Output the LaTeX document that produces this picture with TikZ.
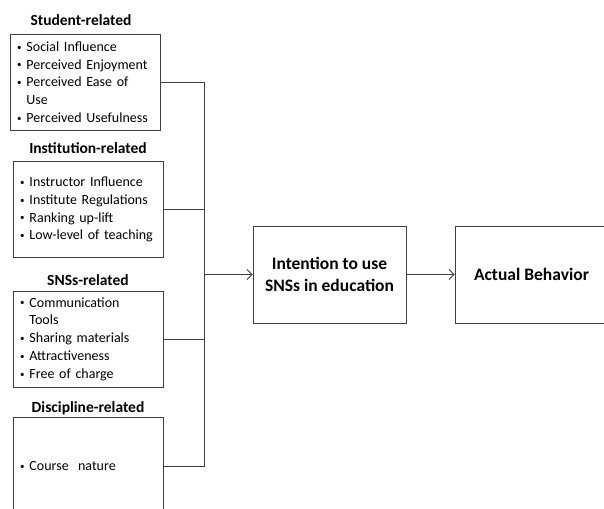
\documentclass[tikz,border=0pt]{standalone}
\usepackage{fontspec}
\setmainfont{Carlito}
\usetikzlibrary{arrows.meta,positioning}
\newcommand{\bul}{\raisebox{1.2pt}{\fontsize{9}{9}\selectfont\textbullet}\hspace{5pt}}
\newcommand{\cont}{\phantom{\fontsize{9}{9}\selectfont\textbullet}\hspace{5pt}}

\begin{document}
\begin{tikzpicture} [
	x=1pt, y=1pt,
	factor/.style = {draw=black!75, line width=0.9pt, text width=136pt, inner xsep=7pt, minimum height=96pt, align=left, font=\fontsize{14}{17.8}\selectfont},
	title/.style = {font=\bfseries\fontsize{15.5}{18}\selectfont},
	stage/.style = {draw=black!75, line width=0.9pt, minimum width=153pt, minimum height=97pt, align=center, font=\bfseries\fontsize{17.5}{22}\selectfont},
	link/.style = {draw=black!75, line width=0.9pt},
	>={Straight Barb[length=5pt,width=10pt]},
]
\useasboundingbox (0,0) rectangle (604,508);
\node [factor] (student) at (85,426) {\bul Social Influence\\ \bul Perceived Enjoyment\\ \bul Perceived Ease of\\ \cont Use\\ \bul Perceived Usefulness};
\node [factor] (institution) at (88,298.5) {\bul Instructor Influence\\ \bul Institute Regulations\\ \bul Ranking up-lift\\ \bul Low-level of teaching};
\node [factor] (sns) at (88,169) {\bul Communication\\ \cont Tools\\ \bul Sharing materials\\ \bul Attractiveness\\ \bul Free of charge};
\node [factor, minimum height=98pt] (discipline) at (88,42) {\bul Course\ \ nature};
\node [title] (studentT) at (81,488) {Student-related};
\node [title] (institutionT) at (88,360) {Institution-related};
\node [title] (snsT) at (88,228) {SNSs-related};
\node [title] (disciplineT) at (88,100) {Discipline-related};
\node [stage] (intention) at (329.5,233.5) {Intention to use\\SNSs in education};
\node [stage] (actual) at (531.5,233.5) {Actual Behavior};
\coordinate (join) at (204,233.5);
\draw [link] (student.east) -| (join);
\draw [link] (discipline.east) -| (join);
\draw [link] (institution.east) -- (institution.east -| join);
\draw [link] (sns.east) -- (sns.east -| join);
\draw [link, ->] (join) -- (intention);
\draw [link, ->] (intention) -- (actual);
\end{tikzpicture}
\end{document}
